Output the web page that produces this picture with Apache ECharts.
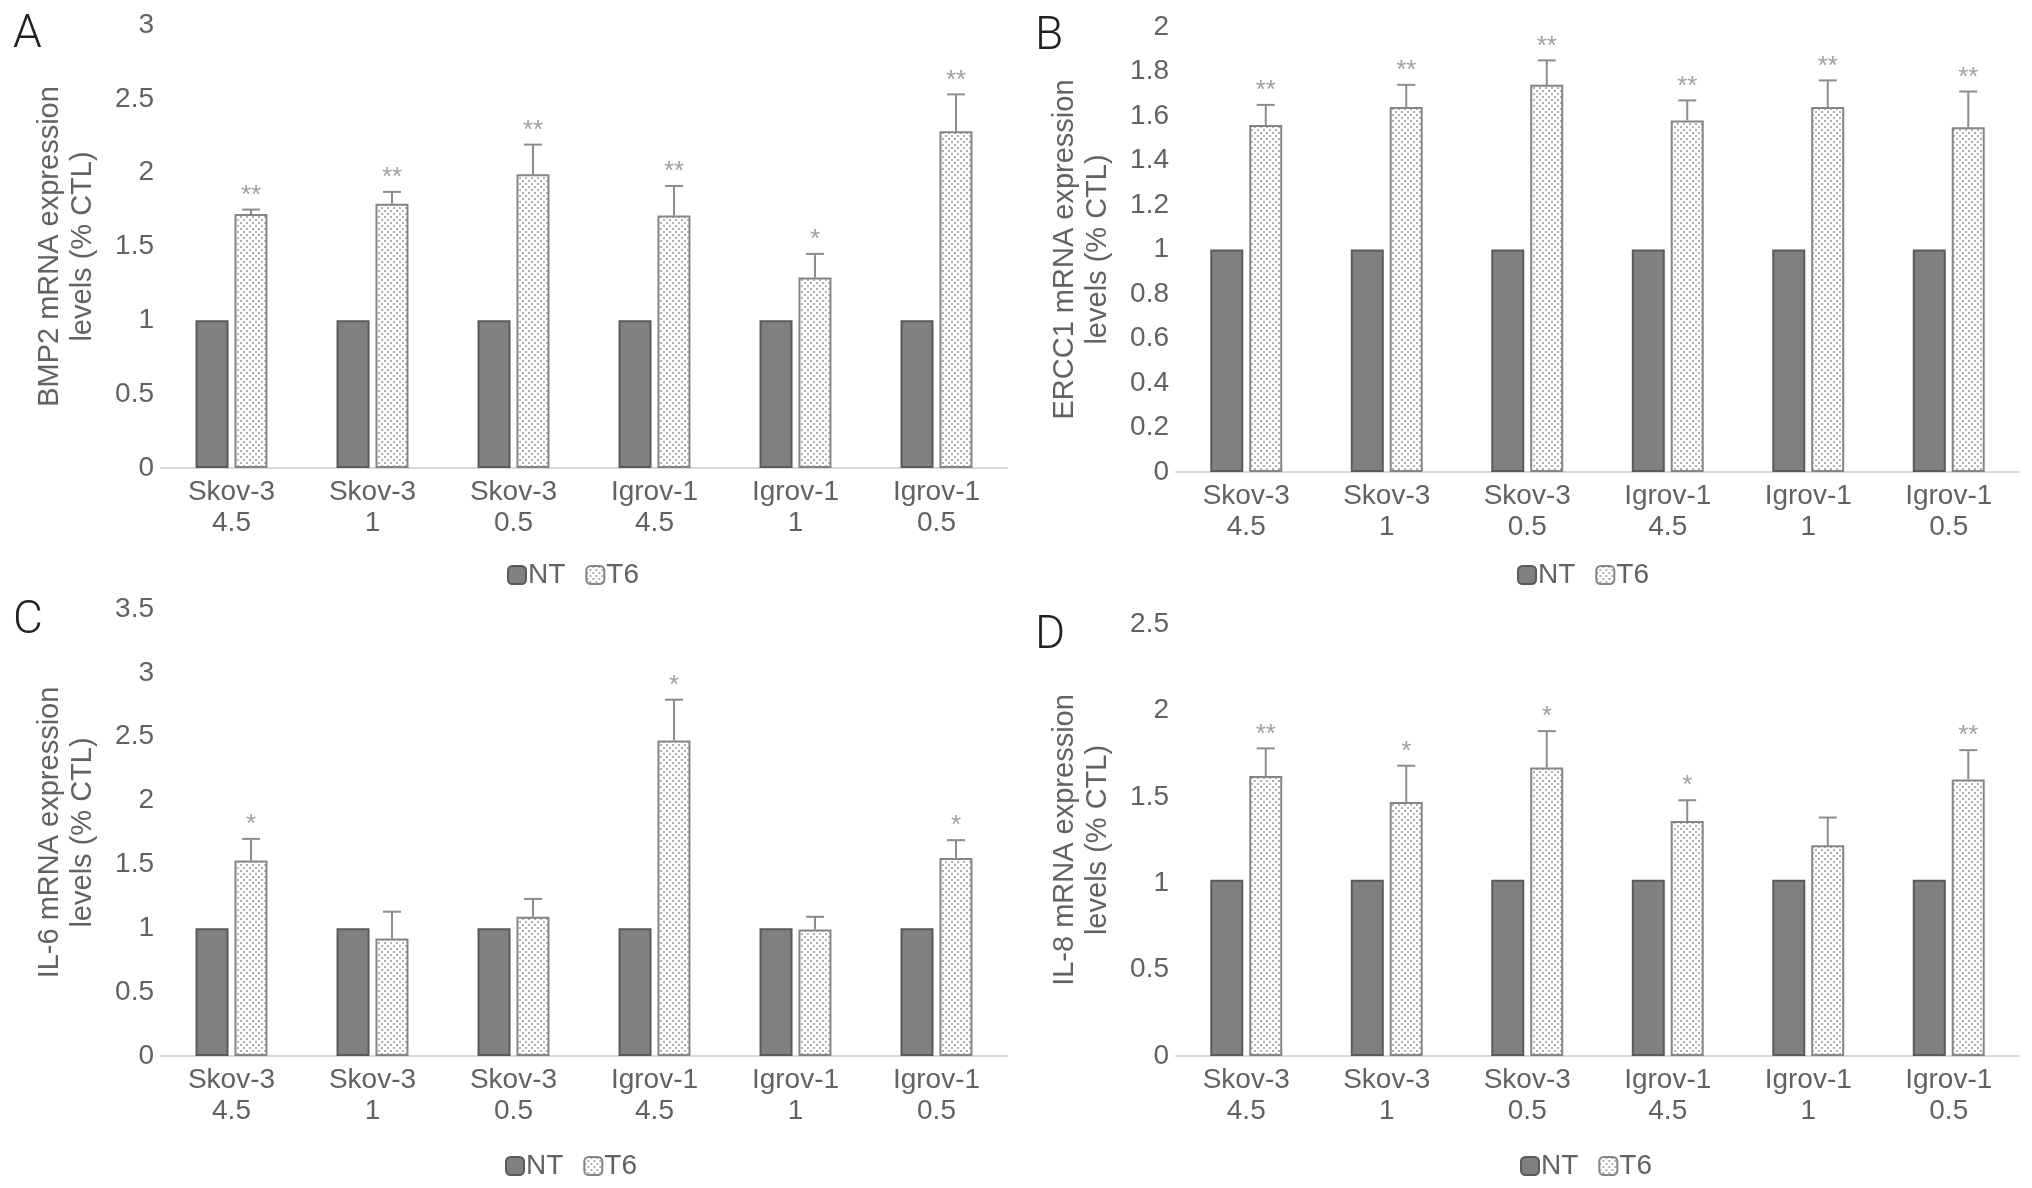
<!DOCTYPE html>
<html>
<head>
<meta charset="utf-8">
<script src="https://cdn.jsdelivr.net/npm/echarts@6/dist/echarts.min.js"></script>
<style>
  body { margin: 0; background: #fff; }
  #main { width: 2032px; height: 1188px; }
</style>
</head>
<body>
<div id="main"></div>
<script>
var categories = ['Skov-3\n4.5', 'Skov-3\n1', 'Skov-3\n0.5', 'Igrov-1\n4.5', 'Igrov-1\n1', 'Igrov-1\n0.5']

// A - BMP2
var ntA = [1, 1, 1, 1, 1, 1]
var t6A = [1.72, 1.79, 1.99, 1.71, 1.29, 2.28]
var errA = [0.03, 0.08, 0.2, 0.2, 0.16, 0.25]
var sigA = ['**', '**', '**', '**', '*', '**']

// B - ERCC1
var ntB = [1, 1, 1, 1, 1, 1]
var t6B = [1.56, 1.64, 1.74, 1.58, 1.64, 1.55]
var errB = [0.09, 0.1, 0.11, 0.09, 0.12, 0.16]
var sigB = ['**', '**', '**', '**', '**', '**']

// C - IL-6
var ntC = [1, 1, 1, 1, 1, 1]
var t6C = [1.53, 0.92, 1.09, 2.47, 0.99, 1.55]
var errC = [0.17, 0.21, 0.14, 0.32, 0.1, 0.14]
var sigC = ['*', '', '', '*', '', '*']

// D - IL-8
var ntD = [1.02, 1.02, 1.02, 1.02, 1.02, 1.02]
var t6D = [1.62, 1.47, 1.67, 1.36, 1.22, 1.6]
var errD = [0.16, 0.21, 0.21, 0.12, 0.16, 0.17]
var sigD = ['**', '*', '*', '*', '', '**']

var myChart = echarts.init(document.getElementById('main'))
var FONT = 'Liberation Sans'
var TXT = '#626262'

// dotted fill like the excel pattern
function dotPattern() {
  var c = document.createElement('canvas')
  c.width = 6
  c.height = 6
  var g = c.getContext('2d')
  g.fillStyle = '#ffffff'
  g.fillRect(0, 0, 6, 6)
  g.fillStyle = '#b0b0b0'
  g.fillRect(0, 0, 2, 2)
  g.fillRect(3, 3, 2, 2)
  return c
}
var dots = { image: dotPattern(), repeat: 'repeat' }

var panels = [
  { name: 'BMP2 mRNA expression\nlevels (% CTL)', nt: ntA, t6: t6A, err: errA, sig: sigA, max: 3, step: 0.5,
    grid: { left: 161, right: 1025, top: 25, bottom: 720 }, legend: { left: 502, top: 556 } },
  { name: 'ERCC1 mRNA expression\nlevels (% CTL)', nt: ntB, t6: t6B, err: errB, sig: sigB, max: 2, step: 0.2,
    grid: { left: 1176, right: 13, top: 27, bottom: 716 }, legend: { left: 1512, top: 556 } },
  { name: 'IL-6 mRNA expression\nlevels (% CTL)', nt: ntC, t6: t6C, err: errC, sig: sigC, max: 3.5, step: 0.5,
    grid: { left: 161, right: 1025, top: 609, bottom: 132 }, legend: { left: 500, top: 1147 } },
  { name: 'IL-8 mRNA expression\nlevels (% CTL)', nt: ntD, t6: t6D, err: errD, sig: sigD, max: 2.5, step: 0.5,
    grid: { left: 1176, right: 13, top: 624, bottom: 132 }, legend: { left: 1515, top: 1147 } }
]

var grids = [], xAxes = [], yAxes = [], series = [], legends = []

panels.forEach(function(p, k) {
  grids.push(p.grid)
  xAxes.push({
    type: 'category',
    gridIndex: k,
    data: categories,
    axisTick: { show: false },
    axisLine: { lineStyle: { color: '#d9d9d9', width: 2 } },
    axisLabel: { interval: 0, color: TXT, fontSize: 28, lineHeight: 31, margin: 9, fontFamily: FONT }
  })
  yAxes.push({
    type: 'value',
    gridIndex: k,
    min: 0,
    max: p.max,
    interval: p.step,
    splitLine: { show: false },
    axisLine: { show: false },
    axisTick: { show: false },
    axisLabel: { color: TXT, fontSize: 28, margin: 7, fontFamily: FONT },
    name: p.name,
    nameLocation: 'middle',
    nameGap: 62,
    nameTextStyle: { color: TXT, fontSize: 29, lineHeight: 33, fontFamily: FONT }
  })
  series.push({
    name: 'NT',
    type: 'bar',
    xAxisIndex: k,
    yAxisIndex: k,
    barWidth: 33,
    barGap: '18%',
    itemStyle: { color: '#808080', borderColor: '#5a5a5a', borderWidth: 2 },
    data: p.nt
  })
  series.push({
    name: 'T6',
    type: 'bar',
    xAxisIndex: k,
    yAxisIndex: k,
    barWidth: 33,
    itemStyle: { color: dots, borderColor: '#858585', borderWidth: 2 },
    data: p.t6
  })
  // error bars (plus side only) + significance stars
  var sig = p.sig
  series.push({
    type: 'custom',
    xAxisIndex: k,
    yAxisIndex: k,
    z: 5,
    data: p.t6.map(function(v, i) { return [i, v, p.err[i]] }),
    renderItem: function(params, api) {
      var base = api.coord([api.value(0), api.value(1)])
      var top = api.coord([api.value(0), api.value(1) + api.value(2)])
      var x = base[0] + 19.5
      var st = { stroke: '#8c8c8c', lineWidth: 2 }
      return {
        type: 'group',
        children: [
          { type: 'line', shape: { x1: x, y1: base[1], x2: x, y2: top[1] }, style: st },
          { type: 'line', shape: { x1: x - 9, y1: top[1], x2: x + 9, y2: top[1] }, style: st },
          { type: 'text', style: { text: sig[params.dataIndex], x: x, y: top[1] - 1, textAlign: 'center',
            textVerticalAlign: 'bottom', fill: '#a0a0a0', fontSize: 26, fontFamily: FONT } }
        ]
      }
    }
  })
  legends.push({
    data: ['NT', 'T6'],
    left: p.legend.left,
    top: p.legend.top,
    itemWidth: 18,
    itemHeight: 18,
    itemGap: 20,
    selectedMode: false,
    textStyle: { color: TXT, fontSize: 28, fontFamily: FONT, padding: [0, 0, 0, -3] }
  })
})

var letters = [['A', 13, 12], ['B', 1035, 14], ['C', 13, 598], ['D', 1035, 613]]

var option = {
  animation: false,
  backgroundColor: '#fff',
  grid: grids,
  xAxis: xAxes,
  yAxis: yAxes,
  legend: legends,
  series: series,
  graphic: letters.map(function(l) {
    return { type: 'text', left: l[1], top: l[2],
      style: { text: l[0], fontSize: 46, fill: '#222', fontFamily: 'Roboto', fontWeight: 300 } }
  })
}
myChart.setOption(option)
</script>
</body>
</html>
